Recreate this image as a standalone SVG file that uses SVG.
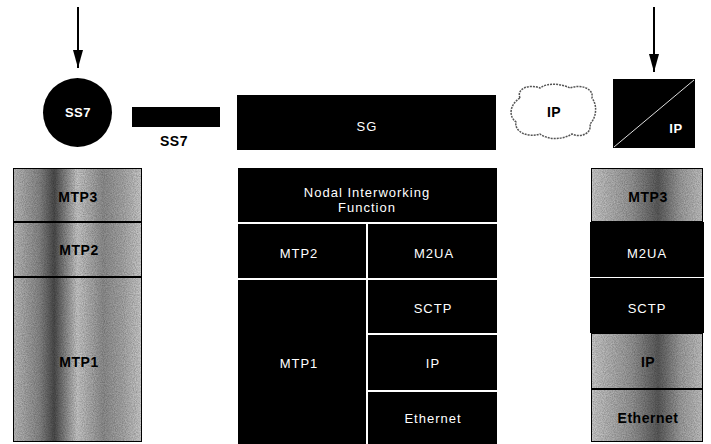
<svg xmlns="http://www.w3.org/2000/svg" width="711" height="444" viewBox="0 0 711 444">
<defs>
<marker id="ah" markerWidth="20" markerHeight="10" refX="18" refY="5" orient="auto" markerUnits="userSpaceOnUse" viewBox="0 0 20 10">
<path d="M0,0 L18,5 L0,10 Z" fill="#000"/>
</marker>
<linearGradient id="gL" x1="0" y1="0" x2="1" y2="0">
<stop offset="0" stop-color="#c4c4c4"/>
<stop offset="0.2" stop-color="#8f8f8f"/>
<stop offset="0.32" stop-color="#505050"/>
<stop offset="0.5" stop-color="#cfcfcf"/>
<stop offset="0.7" stop-color="#949494"/>
<stop offset="0.85" stop-color="#adadad"/>
<stop offset="1" stop-color="#d4d4d4"/>
</linearGradient>
<linearGradient id="gR" x1="0" y1="0" x2="1" y2="0">
<stop offset="0" stop-color="#d2d2d2"/>
<stop offset="0.35" stop-color="#9e9e9e"/>
<stop offset="0.6" stop-color="#5f5f5f"/>
<stop offset="0.8" stop-color="#a4a4a4"/>
<stop offset="1" stop-color="#cacaca"/>
</linearGradient>
<filter id="noise" x="0" y="0" width="100%" height="100%">
<feTurbulence type="fractalNoise" baseFrequency="0.9" numOctaves="2" seed="3" result="n"/>
<feColorMatrix in="n" type="matrix" values="0 0 0 0 0  0 0 0 0 0  0 0 0 0 0  0 0 0 0.7 -0.1" result="na"/>
<feComposite in="na" in2="SourceGraphic" operator="in" result="nc"/>
<feMerge><feMergeNode in="SourceGraphic"/><feMergeNode in="nc"/></feMerge>
</filter>
</defs>
<style>
.blk{fill:#000}
.wt{fill:#fff;font-family:"Liberation Sans",Arial,sans-serif;font-size:13px;text-anchor:middle;letter-spacing:1px}
.bt{fill:#000;font-family:"Liberation Sans",Arial,sans-serif;font-size:14px;font-weight:bold;text-anchor:middle;letter-spacing:0.5px}
.gl{fill:url(#gL);stroke:#000;stroke-width:2;filter:url(#noise)}
.gr{fill:url(#gR);stroke:#000;stroke-width:2;filter:url(#noise)}
.arr{stroke:#000;stroke-width:2;fill:none}
</style>
<g id="connectors">
<line class="arr" x1="78" y1="7" x2="78" y2="68" marker-end="url(#ah)"/>
<line class="arr" x1="654" y1="7" x2="654" y2="72" marker-end="url(#ah)"/>
</g>
<g id="ss7-circle">
<circle class="blk" cx="77.5" cy="112.5" r="34.5"/>
<text class="wt" x="78" y="117" style="font-weight:bold;letter-spacing:0.5px">SS7</text>
</g>
<g id="ss7-link">
<rect class="blk" x="132" y="107" width="88" height="20"/>
<text class="bt" x="174" y="146">SS7</text>
</g>
<g id="sg">
<rect class="blk" x="237" y="95" width="259" height="55"/>
<text class="wt" x="367" y="131">SG</text>
</g>
<g id="ip-cloud">
<path d="M520,98 C516,88 530,84 540,88 C548,82 562,84 570,88 C580,84 594,88 592,98 C598,106 596,118 590,124 C592,134 580,138 572,134 C562,140 548,140 540,134 C528,138 514,132 516,122 C508,116 510,104 520,98 Z" fill="#fff" stroke="#555" stroke-width="1.5" stroke-dasharray="2,1"/>
<text class="bt" x="554" y="117">IP</text>
</g>
<g id="ip-endpoint">
<rect class="blk" x="613" y="79" width="82" height="69"/>
<line x1="614" y1="147" x2="694" y2="80" stroke="#ddd" stroke-width="1"/>
<text class="wt" x="676" y="133" style="font-weight:bold;letter-spacing:0.5px">IP</text>
</g>
<g id="left-stack">
<rect class="gl" x="13" y="168" width="129" height="54"/>
<rect class="gl" x="13" y="222" width="129" height="55"/>
<rect class="gl" x="13" y="277" width="129" height="165"/>
<text class="bt" x="78" y="202">MTP3</text>
<text class="bt" x="79" y="255">MTP2</text>
<text class="bt" x="79" y="367">MTP1</text>
</g>
<g id="sg-stack">
<rect class="blk" x="238" y="168" width="259" height="54"/>
<rect class="blk" x="238" y="224" width="128" height="54"/>
<rect class="blk" x="368" y="224" width="129" height="54"/>
<rect class="blk" x="238" y="280" width="128" height="164"/>
<rect class="blk" x="368" y="280" width="129" height="53"/>
<rect class="blk" x="368" y="335" width="129" height="55"/>
<rect class="blk" x="368" y="392" width="129" height="52"/>
<text class="wt" x="367" y="197">Nodal Interworking</text>
<text class="wt" x="367" y="212">Function</text>
<text class="wt" x="299" y="258">MTP2</text>
<text class="wt" x="434" y="258">M2UA</text>
<text class="wt" x="433" y="313">SCTP</text>
<text class="wt" x="299" y="368">MTP1</text>
<text class="wt" x="433" y="368">IP</text>
<text class="wt" x="433" y="423">Ethernet</text>
</g>
<g id="ip-stack">
<rect class="gr" x="591" y="168" width="112" height="54"/>
<rect class="blk" x="590" y="222" width="114" height="55"/>
<rect class="blk" x="590" y="278" width="114" height="55"/>
<rect class="gr" x="591" y="333" width="112" height="56"/>
<rect class="gr" x="591" y="389" width="112" height="53"/>
<text class="bt" x="648" y="202">MTP3</text>
<text class="wt" x="647" y="258">M2UA</text>
<text class="wt" x="647" y="313">SCTP</text>
<text class="bt" x="648" y="367">IP</text>
<text class="bt" x="648" y="423">Ethernet</text>
</g>
</svg>
